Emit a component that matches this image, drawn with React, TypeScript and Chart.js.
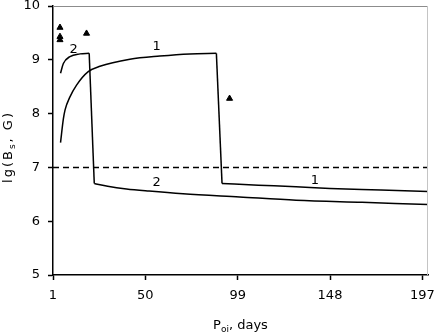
import { useEffect, useRef } from "react";
import { Chart, registerables } from "chart.js";

Chart.register(...registerables);

// Curve 1
const curve1Days = [5, 6.5, 7.4, 10, 13.5, 19.7, 25.9, 41.8, 57.7, 73.6, 87.7, 90.7, 110, 130, 148, 175, 200];
const curve1Values = [7.46, 7.9, 8.07, 8.31, 8.53, 8.78, 8.88, 9.01, 9.07, 9.11, 9.12, 6.7, 6.67, 6.64, 6.61, 6.58, 6.55];

// Curve 2
const curve2Days = [5, 6.5, 10, 15.3, 20.2, 22.9, 30, 40, 52, 70, 100, 130, 165, 200];
const curve2Values = [8.75, 8.93, 9.06, 9.11, 9.12, 6.7, 6.65, 6.6, 6.56, 6.51, 6.45, 6.39, 6.35, 6.31];

// Triangle markers
const markerDays = [4.7, 4.7, 4.7, 18.8, 94.7];
const markerValues = [9.6, 9.43, 9.37, 9.49, 8.28];

// Threshold (dashed)
const thresholdDays = [1, 200];
const thresholdValues = [7, 7];

// Curve labels
const labelTexts = ["1", "2", "2", "1"];
const labelDays = [56, 12, 56, 140];
const labelValues = [9.25, 9.19, 6.71, 6.75];

const xTickValues = [1, 50, 99, 148, 197];
const yTickValues = [5, 6, 7, 8, 9, 10];

const FONT = '"DejaVu Sans", Verdana, sans-serif';

const zip = (xs: number[], ys: number[]) => xs.map((x, i) => ({ x, y: ys[i] }));

// split a curve into rise / drop / decay parts at its steepest fall
const splitCurve = (xs: number[], ys: number[]) => {
  let k = 0;
  let best = -Infinity;
  for (let i = 0; i < ys.length - 1; i++) {
    const d = ys[i] - ys[i + 1];
    if (d > best) {
      best = d;
      k = i;
    }
  }
  const pts = zip(xs, ys);
  return {
    rise: pts.slice(0, k + 1),
    drop: pts.slice(k, k + 2),
    decay: pts.slice(k + 1),
  };
};

const decorPlugin = {
  id: "decor",
  afterDraw(chart: any) {
    const { ctx, chartArea, scales } = chart;
    const x = scales.x;
    const y = scales.y;
    ctx.save();
    // top and right borders
    ctx.lineWidth = 1;
    ctx.strokeStyle = "#8c8c8c";
    ctx.beginPath();
    ctx.moveTo(chartArea.left, chartArea.top + 0.5);
    ctx.lineTo(chartArea.right, chartArea.top + 0.5);
    ctx.stroke();
    ctx.strokeStyle = "#c4c4c4";
    ctx.beginPath();
    ctx.moveTo(chartArea.right - 0.5, chartArea.top);
    ctx.lineTo(chartArea.right - 0.5, chartArea.bottom);
    ctx.stroke();

    // curve labels
    ctx.fillStyle = "#000";
    ctx.font = `13px ${FONT}`;
    ctx.textAlign = "center";
    ctx.textBaseline = "middle";
    labelTexts.forEach((t, i) => {
      ctx.fillText(t, x.getPixelForValue(labelDays[i]), y.getPixelForValue(labelValues[i]));
    });

    const big = `13px ${FONT}`;
    const small = `9px ${FONT}`;
    const drawSub = (parts: { t: string; sub: boolean }[], cx: number, base: number, spacing: number) => {
      (ctx as any).letterSpacing = `${spacing}px`;
      let total = 0;
      parts.forEach((p) => {
        ctx.font = p.sub ? small : big;
        total += ctx.measureText(p.t).width;
      });
      let cur = cx - total / 2;
      ctx.textAlign = "left";
      ctx.textBaseline = "alphabetic";
      parts.forEach((p) => {
        ctx.font = p.sub ? small : big;
        ctx.fillText(p.t, cur, base + (p.sub ? 3 : 0));
        cur += ctx.measureText(p.t).width;
      });
      (ctx as any).letterSpacing = "0px";
    };
    // x title: P_oi, days
    drawSub(
      [
        { t: "P", sub: false },
        { t: "oi", sub: true },
        { t: ", days", sub: false },
      ],
      (chartArea.left + chartArea.right) / 2,
      329,
      0
    );
    // y title rotated
    ctx.save();
    ctx.translate(12, 147);
    ctx.rotate(-Math.PI / 2);
    drawSub(
      [
        { t: "lg(B", sub: false },
        { t: "s", sub: true },
        { t: ", G)", sub: false },
      ],
      0,
      0,
      2
    );
    ctx.restore();
    ctx.restore();
  },
};

export default function App() {
  const ref = useRef<HTMLCanvasElement | null>(null);
  useEffect(() => {
    if (!ref.current) return;
    const lineBase = {
      borderColor: "#000",
      borderWidth: 1.5,
      pointRadius: 0,
      fill: false,
    };
    const c1 = splitCurve(curve1Days, curve1Values);
    const c2 = splitCurve(curve2Days, curve2Values);
    const smooth = { ...lineBase, cubicInterpolationMode: "monotone" };
    const chart = new Chart(ref.current, {
      type: "line",
      data: {
        datasets: [
          { ...smooth, data: c1.rise } as any,
          { ...lineBase, data: c1.drop, tension: 0 } as any,
          { ...smooth, data: c1.decay } as any,
          { ...smooth, data: c2.rise } as any,
          { ...lineBase, data: c2.drop, tension: 0 } as any,
          { ...smooth, data: c2.decay } as any,
          { ...lineBase, data: zip(thresholdDays, thresholdValues), borderDash: [6, 4] } as any,
          {
            data: zip(markerDays, markerValues),
            showLine: false,
            pointStyle: "triangle",
            pointRadius: 3.5,
            pointBackgroundColor: "#000",
            pointBorderColor: "#000",
            pointBorderWidth: 1,
          } as any,
        ],
      },
      options: {
        animation: false,
        responsive: false,
        events: [],
        layout: { padding: { top: 0, right: 8, bottom: 0, left: 0 } },
        plugins: { legend: { display: false }, tooltip: { enabled: false } },
        scales: {
          x: {
            type: "linear",
            min: 1,
            max: 200,
            afterBuildTicks: (s: any) => {
              s.ticks = xTickValues.map((v) => ({ value: v }));
            },
            afterFit: (s: any) => {
              s.height = 58;
              s.paddingLeft = 0;
              s.paddingRight = 0;
            },
            grid: { drawOnChartArea: false, drawTicks: true, tickLength: 5, tickColor: "#000", tickWidth: 1.5 },
            border: { display: true, color: "#000", width: 1.5 },
            ticks: {
              font: { family: FONT, size: 13 },
              color: "#000",
              padding: 8,
              maxRotation: 0,
              autoSkip: false,
              callback: (v: any) => String(v),
            },
          },
          y: {
            type: "linear",
            min: 5,
            max: 10,
            afterBuildTicks: (s: any) => {
              s.ticks = yTickValues.map((v) => ({ value: v }));
            },
            afterFit: (s: any) => {
              s.width = 53;
              s.paddingTop = 6;
              s.paddingBottom = 0;
            },
            grid: { drawOnChartArea: false, drawTicks: true, tickLength: 5, tickColor: "#000", tickWidth: 1.5 },
            border: { display: true, color: "#000", width: 1.5 },
            ticks: {
              font: { family: FONT, size: 13 },
              color: "#000",
              padding: 8,
              autoSkip: false,
              callback: (v: any) => String(v),
            },
          },
        },
      },
      plugins: [decorPlugin],
    });
    return () => chart.destroy();
  }, []);
  return (
    <div style={{ position: "absolute", left: 0, top: 0, width: 436, height: 333, background: "#fff" }}>
      <canvas ref={ref} width={436} height={333} style={{ display: "block" }} />
    </div>
  );
}
